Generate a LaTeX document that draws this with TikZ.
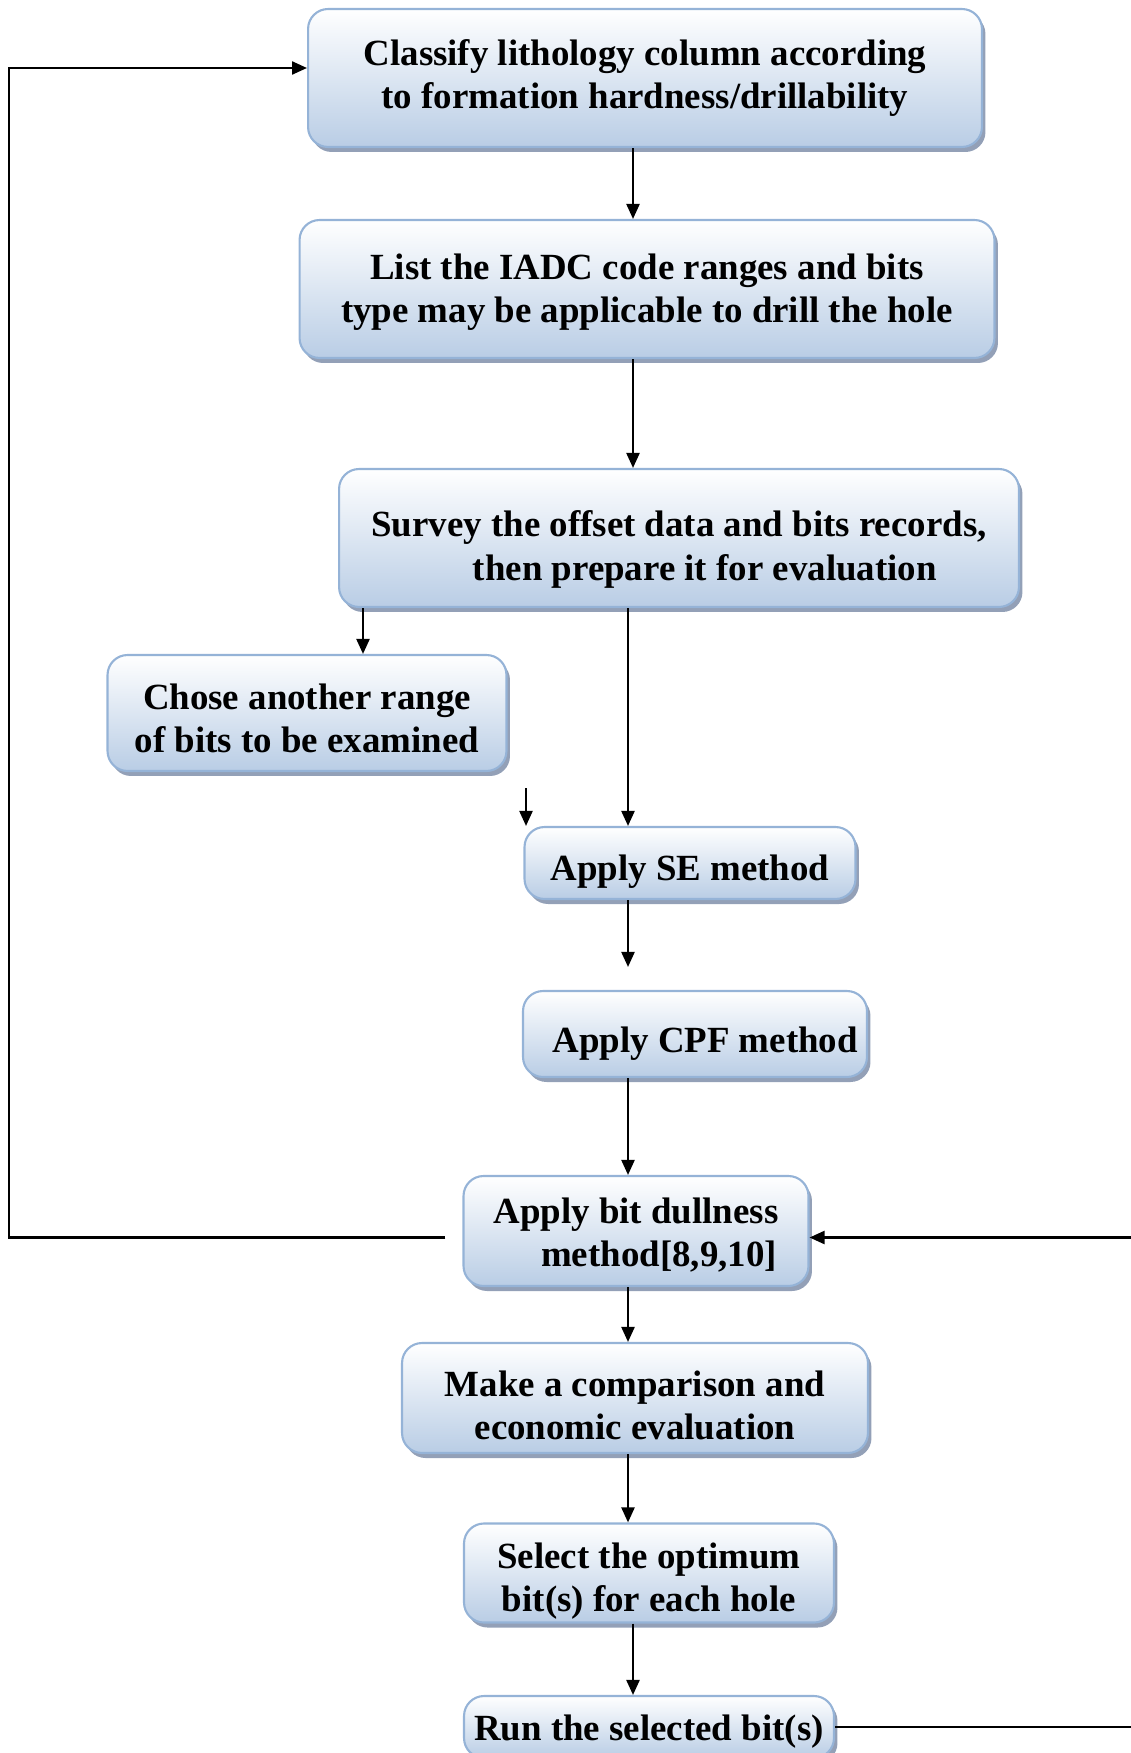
\documentclass[tikz,border=0pt]{standalone}
\usepackage{fontspec}
\setmainfont{Liberation Serif}
\usetikzlibrary{arrows.meta,shadows}
\definecolor{boxline}{RGB}{149,179,215}
\definecolor{boxfill}{RGB}{185,205,229}
\definecolor{boxshade}{RGB}{135,150,175}

\begin{document}
\begin{tikzpicture}[x=0.02cm,y=-0.02cm,
	stepbox/.style={draw=boxline,line width=1.2pt,rounded corners=0.4cm,top color=white,bottom color=boxfill,
		drop shadow={shadow xshift=0.07cm,shadow yshift=-0.1cm,fill=boxshade,opacity=0.9},
		align=flush center,font=\fontsize{21}{24.5}\selectfont\bfseries,inner sep=2pt,
		execute at begin node={\rule{0pt}{#1}}},
	stepbox/.default=14pt,
	flow/.style={->,>={Triangle[length=0.3cm,width=0.26cm]},line width=1.3pt}]
			\useasboundingbox (0,0) rectangle (1131,1753);
			% columns of the connectors
			\coordinate (colA) at (633,0);
			\coordinate (colB) at (628,0);
			\coordinate (colC) at (363,0);
			\coordinate (loopL) at (9,0);
			\coordinate (freetop) at (526,788);
			\node[stepbox,text width=13.34cm,minimum height=2.76cm] (classify) at (645,78) {Classify lithology column according\\to formation hardness/drillability};
			\node[stepbox=18.2pt,text width=13.76cm,minimum height=2.76cm] (iadc) at (647,289) {List the IADC code ranges and bits\\type may be applicable to drill the hole};
			\node[stepbox=27.8pt,text width=13.46cm,minimum height=2.76cm] (survey) at (679,538) {Survey the offset data and bits records,\\\hspace*{1.4em}then prepare it for evaluation};
			\node[stepbox=20.8pt,text width=7.84cm,minimum height=2.32cm] (chose) at (307,713) {Chose another range\\of bits to be examined};
			\node[stepbox=24.6pt,text width=6.48cm,minimum height=1.44cm] (se) at (690,863) {Apply SE method};
			\node[stepbox=25.8pt,text width=6.74cm,minimum height=1.72cm] (cpf) at (695,1034) {\hspace*{0.55em}Apply CPF method};
			\node[stepbox=19.4pt,text width=6.76cm,minimum height=2.2cm] (dull) at (636,1231) {Apply bit dullness\\\hspace*{1.25em}method[8,9,10]};
			\node[stepbox=22.6pt,text width=9.18cm,minimum height=2.2cm] (compare) at (635,1398) {Make a comparison and\\economic evaluation};
			\node[stepbox=23.4pt,text width=7.26cm,minimum height=1.94cm] (select) at (649,1573) {Select the optimum\\bit(s) for each hole};
			\node[stepbox=19.4pt,text width=7.26cm,minimum height=1.24cm] (run) at (649,1727) {Run the selected bit(s)};
			\draw[flow] (classify.south -| colA) -- (iadc.north -| colA);
			\draw[flow] (iadc.south -| colA) -- (survey.north -| colA);
			\draw[flow] (survey.south -| colB) -- (se.north -| colB);
			\draw[flow] (survey.south -| colC) -- (chose.north -| colC);
			\draw[flow] (freetop) -- (freetop |- se.north);
			\draw[flow,shorten >=0.46cm] (se.south -| colB) -- (cpf.north -| colB);
			\draw[flow] (cpf.south -| colB) -- (dull.north -| colB);
			\draw[flow] (dull.south -| colB) -- (compare.north -| colB);
			\draw[flow] (compare.south -| colB) -- (select.north -| colB);
			\draw[flow] (select.south -| colA) -- (run.north -| colA);
			% loops back
			\draw[flow] (run.east) -- ++(340,0) |- ([yshift=-0.13cm]dull.east);
			\draw[flow,shorten <=0.34cm] ([yshift=-0.13cm]dull.west) -- ([yshift=-0.13cm]dull.west -| loopL) |- ([yshift=0.2cm]classify.west);
		\end{tikzpicture}
\end{document}
